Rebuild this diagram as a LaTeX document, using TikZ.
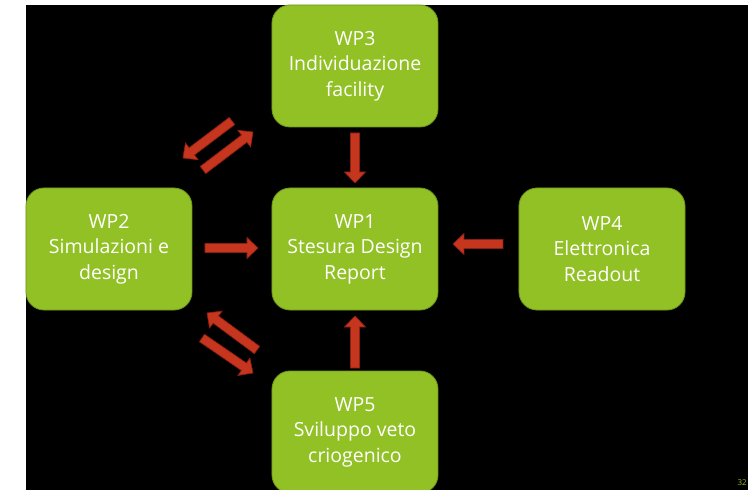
\documentclass[tikz,border=0pt]{standalone}
\usepackage{fontspec}
\setmainfont{Open Sans}
\usetikzlibrary{positioning,calc}

\definecolor{wpgreen}{RGB}{146,193,38}
\definecolor{wpedge}{RGB}{112,150,28}
\definecolor{arrred}{RGB}{198,54,30}
\definecolor{arredge}{RGB}{140,30,18}

% block arrow from #1 to #2
\newcommand{\blockarr}[2]{%
  \coordinate (hb) at ($(#2)!11pt!(#1)$);
  \draw[arr] ($(#1)!4.5pt!90:(#2)$) -- ($(hb)!4.5pt!90:(#2)$)
    -- ($(hb)!10.5pt!90:(#2)$) -- (#2) -- ($(hb)!10.5pt!-90:(#2)$)
    -- ($(hb)!4.5pt!-90:(#2)$) -- ($(#1)!4.5pt!-90:(#2)$) -- cycle;}

\begin{document}
\begin{tikzpicture}[
    x=1pt, y=1pt,
    wp/.style={rectangle, rounded corners=18pt, draw=wpedge, line width=0.8pt,
      fill=wpgreen, text=white, minimum width=166pt, minimum height=122pt,
      outer sep=0pt, align=center, font=\fontsize{19.5}{25.5}\selectfont},
    arr/.style={fill=arrred, draw=arredge, line width=0.7pt, line join=miter}
  ]
  % page
  \useasboundingbox (-355,-241) rectangle (393,249);
  \fill[white] (-355,-241) rectangle (393,249);
  \fill[black] (-329,-241) rectangle (393,244);

  % work packages
  \node[wp] (wp1) at (0,0) {WP1\\Stesura Design\\Report};
  \node[wp, above=61pt of wp1] (wp3) {WP3\\Individuazione\\facility};
  \node[wp, below=61pt of wp1] (wp5) {WP5\\Sviluppo veto\\criogenico};
  \node[wp, left=80pt of wp1] (wp2) {WP2\\Simulazioni e\\design};
  \node[wp, right=81pt of wp1] (wp4) {WP4\\Elettronica\\Readout};

  % arrow ends
  \coordinate (a3s) at ([yshift=-6pt]wp3.south);
  \coordinate (a3t) at ([yshift=5pt]wp1.north);
  \coordinate (a5s) at ([yshift=3pt]wp5.north);
  \coordinate (a5t) at ([yshift=-6pt]wp1.south);
  \coordinate (a2s) at ([xshift=13pt,yshift=1pt]wp2.east);
  \coordinate (a2t) at ([xshift=-14pt,yshift=1pt]wp1.west);
  \coordinate (a4s) at ([xshift=-16pt,yshift=5pt]wp4.west);
  \coordinate (a4t) at ([xshift=15pt,yshift=5pt]wp1.east);
  \coordinate (d1s) at ($(wp2.north east)+(40,67)$);
  \coordinate (d1t) at ($(wp2.north east)+(-9,30)$);
  \coordinate (d2s) at ($(wp3.south west)+(-69,-43)$);
  \coordinate (d2t) at ($(wp3.south west)+(-19,-5)$);
  \coordinate (d3s) at ($(wp5.north west)+(-15,21)$);
  \coordinate (d3t) at ($(wp2.south east)+(15,-3)$);
  \coordinate (d4s) at ($(wp2.south east)+(10,-28)$);
  \coordinate (d4t) at ($(wp5.north west)+(-19,-2)$);

  \blockarr{a3s}{a3t}
  \blockarr{a5s}{a5t}
  \blockarr{a2s}{a2t}
  \blockarr{a4s}{a4t}
  \blockarr{d1s}{d1t}
  \blockarr{d2s}{d2t}
  \blockarr{d3s}{d3t}
  \blockarr{d4s}{d4t}

  % slide number
  \node[anchor=east, inner sep=0pt, text=wpgreen, font=\fontsize{8}{10}\selectfont] (pnum) at (392,-234) {32};
\end{tikzpicture}
\end{document}
